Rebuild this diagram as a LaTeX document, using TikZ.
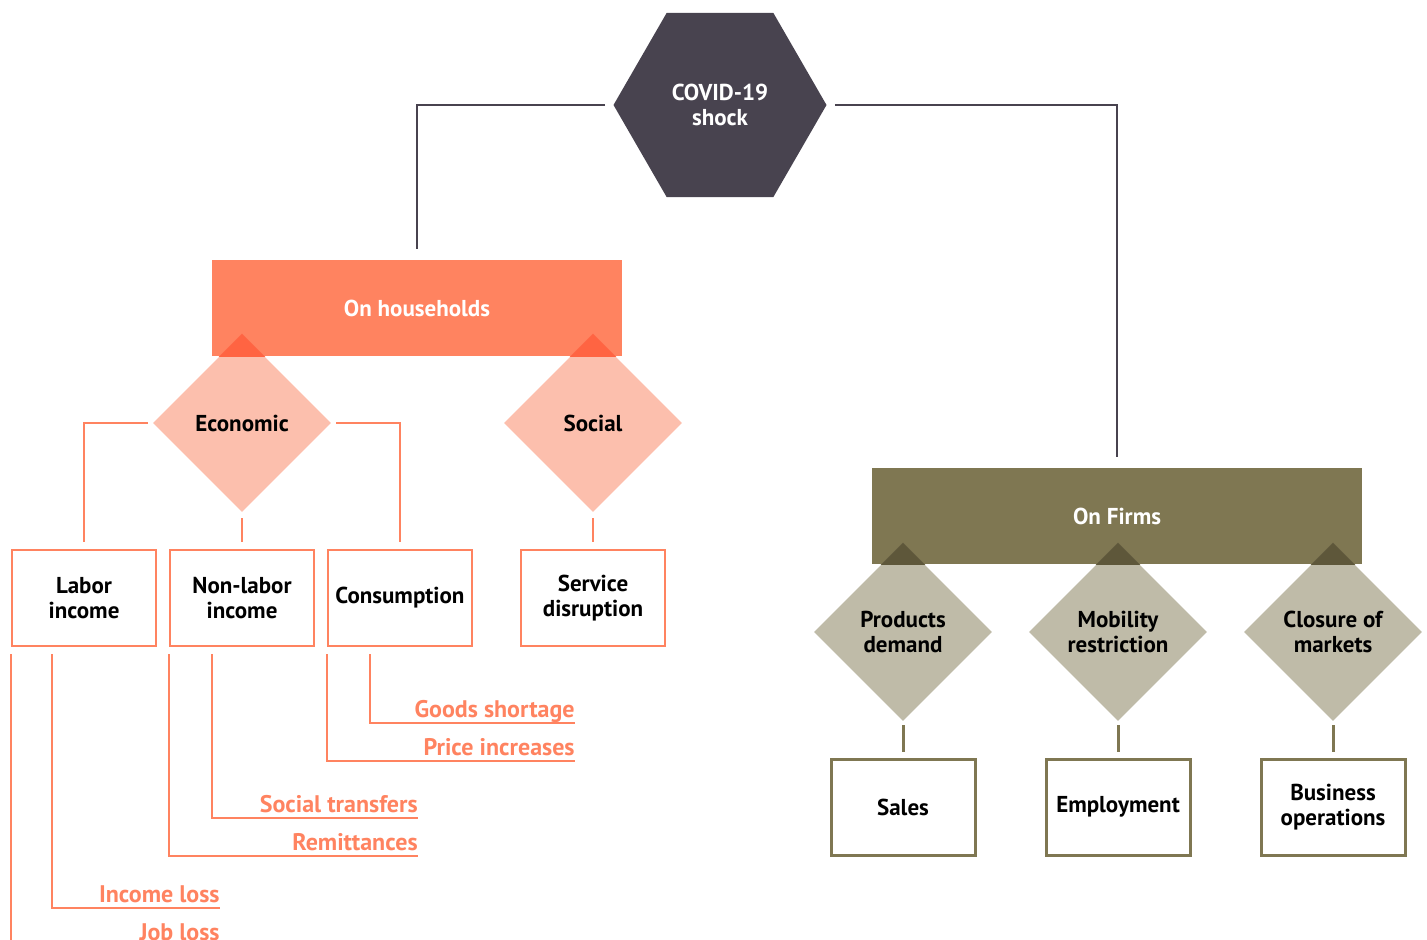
\documentclass[tikz,border=0pt]{standalone}
\usepackage{fontspec}
\setmainfont{PT Sans}
\usetikzlibrary{positioning, shapes.geometric}
\definecolor{shockgray}{HTML}{48434F}
\definecolor{coral}{HTML}{FF8360}
\definecolor{lightcoral}{HTML}{FCBFAD}
\definecolor{darkcoral}{HTML}{FF6442}
\definecolor{olive}{HTML}{7F7752}
\definecolor{lightolive}{HTML}{BFBBA8}
\definecolor{darkolive}{HTML}{5E573A}

\begin{document}
\begin{tikzpicture}[x=0.5pt,y=-0.5pt,
  lbl/.style={font=\bfseries\fontsize{11.5}{12.5}\selectfont,align=center},
  bar/.style={lbl,rectangle,inner sep=0pt,minimum height=48pt,text=white},
  dia/.style={lbl,diamond,inner sep=0pt,minimum width=89pt,minimum height=89pt},
  box/.style={lbl,rectangle,fill=white,line width=1.25pt,minimum width=72pt,minimum height=48pt},
  sub/.style={font=\bfseries\fontsize{12}{13}\selectfont,text=coral,anchor=south east,
              inner xsep=0pt,inner ysep=0.5pt,text depth=2pt},
  hline/.style={shockgray,line width=1pt},
  cline/.style={coral,line width=1pt},
  fline/.style={olive,line width=1.5pt}]
  \useasboundingbox (0,0) rectangle (1427,940);

  \node[lbl,regular polygon,regular polygon sides=6,minimum size=106.5pt,inner sep=0pt,
        fill=shockgray,text=white](shock) at (720,105){COVID-19\\shock};

  % households side
  \node[bar,fill=coral,minimum width=205pt](hh) at (417,308){On households};
  \node[dia,fill=lightcoral](eco) at (242,423){Economic};
  \node[dia,fill=lightcoral](soc) at (593,423){Social};
  \begin{scope}
    \clip (hh.south west) rectangle (hh.north east);
    \fill[darkcoral] (eco.north)--(eco.east)--(eco.south)--(eco.west)--cycle;
    \fill[darkcoral] (soc.north)--(soc.east)--(soc.south)--(soc.west)--cycle;
  \end{scope}
  \node[box,draw=coral](labor) at (84,598){Labor\\income};
  \node[box,draw=coral](nonlabor) at (242,598){Non-labor\\income};
  \node[box,draw=coral](cons) at (400,598){Consumption};
  \node[box,draw=coral](serv) at (593,598){Service\\disruption};

  \node[sub](gs) at (575,723){Goods shortage};
  \node[sub](pi) at (575,761){Price increases};
  \node[sub](st) at (418,818){Social transfers};
  \node[sub](rem) at (418,856){Remittances};
  \node[sub](il) at (220,908){Income loss};
  \node[sub](jl) at (220,946){Job loss};

  % firms side
  \node[bar,fill=olive,minimum width=245pt](firms) at (1117,516){On Firms};
  \node[dia,fill=lightolive](pd) at (903,632){Products\\demand};
  \node[dia,fill=lightolive](mr) at (1118,632){Mobility\\restriction};
  \node[dia,fill=lightolive](cm) at (1333,632){Closure of\\markets};
  \begin{scope}
    \clip (firms.south west) rectangle (firms.north east);
    \foreach \d in {pd,mr,cm}
      \fill[darkolive] (\d.north)--(\d.east)--(\d.south)--(\d.west)--cycle;
  \end{scope}
  \node[box,draw=olive,line width=1.5pt](sales) at (903,807){Sales};
  \node[box,draw=olive,line width=1.5pt](empl) at (1118,807){Employment};
  \node[box,draw=olive,line width=1.5pt](busi) at (1333,807){Business\\operations};

  % connectors
  \draw[hline] ([xshift=-4pt]shock.west) -| ([yshift=5.5pt]hh.north);
  \draw[hline] ([xshift=4pt]shock.east) -| ([yshift=5.5pt]firms.north);

  \draw[cline] ([xshift=-2.5pt]eco.west) -| ([yshift=3.5pt]labor.north);
  \draw[cline] ([xshift=2.5pt]eco.east) -| ([yshift=3.5pt]cons.north);
  \draw[cline] ([yshift=-3pt]eco.south) -- ([yshift=3.5pt]nonlabor.north);
  \draw[cline] ([yshift=-3pt]soc.south) -- ([yshift=3.5pt]serv.north);

  \draw[cline] ([yshift=-3.5pt]labor.south west) |- (jl.south east);
  \draw[cline] ([shift={(20.5pt,-3.5pt)}]labor.south west) |- (il.south east);
  \draw[cline] ([yshift=-3.5pt]nonlabor.south west) |- (rem.south east);
  \draw[cline] ([shift={(21.5pt,-3.5pt)}]nonlabor.south west) |- (st.south east);
  \draw[cline] ([yshift=-3.5pt]cons.south west) |- (pi.south east);
  \draw[cline] ([shift={(21.5pt,-3.5pt)}]cons.south west) |- (gs.south east);

  \foreach \d/\b in {pd/sales,mr/empl,cm/busi}
    \draw[fline] ([yshift=-2pt]\d.south) -- ([yshift=3pt]\b.north);
\end{tikzpicture}
\end{document}
